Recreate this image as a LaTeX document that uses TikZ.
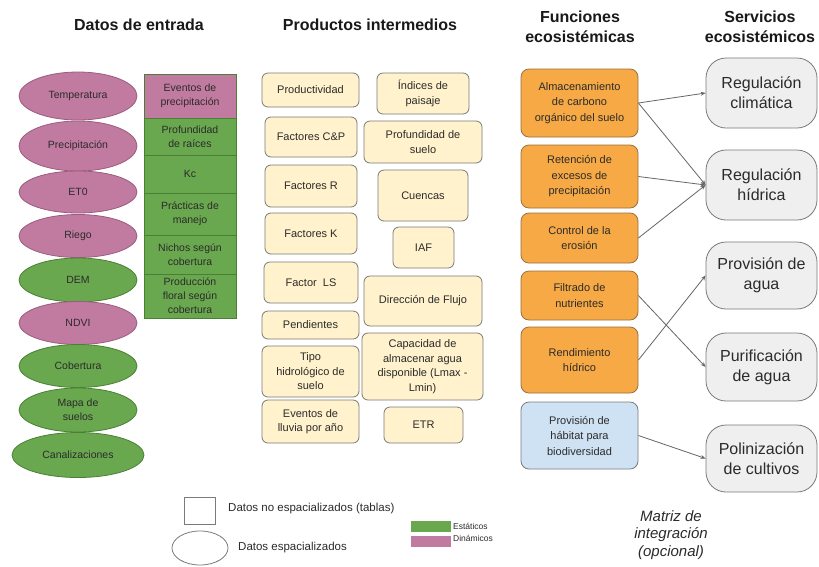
\documentclass[tikz,border=0pt]{standalone}
\usepackage{fontspec}
\setmainfont{Liberation Sans}
\usetikzlibrary{arrows.meta,shapes.geometric}
\definecolor{pinkf}{HTML}{C27BA0}
\definecolor{pinkd}{HTML}{9A5C7E}
\definecolor{greenf}{HTML}{6AA84F}
\definecolor{greend}{HTML}{4A8034}
\definecolor{creamf}{HTML}{FFF2CC}
\definecolor{orangef}{HTML}{F6A944}
\definecolor{oranged}{HTML}{9C7040}
\definecolor{bluef}{HTML}{CFE2F3}
\definecolor{grayf}{HTML}{EFEFEF}
\definecolor{edgegray}{HTML}{7A7A7A}
\definecolor{txt}{HTML}{2B2B2B}
\tikzset{
  title/.style={font=\fontsize{16}{20}\selectfont\bfseries, text=black!90, align=center},
  pell/.style={ellipse, draw=pinkd, fill=pinkf, line width=0.8pt, inner sep=0pt, align=center, text=txt, font=\fontsize{10.5}{14}\selectfont},
  gell/.style={ellipse, draw=greend, fill=greenf, line width=0.8pt, inner sep=0pt, align=center, text=txt, font=\fontsize{10.5}{14}\selectfont},
  cell/.style={rectangle, draw=greend, fill=#1, line width=0.8pt, inner sep=0pt, align=center, text=txt, font=\fontsize{10.5}{14}\selectfont, minimum width=92pt},
  cbox/.style={rectangle, rounded corners=6pt, draw=edgegray, fill=creamf, line width=0.8pt, inner sep=0pt, align=center, text=txt, font=\fontsize{11}{14.5}\selectfont},
  obox/.style={rectangle, rounded corners=8pt, draw=oranged, fill=#1, line width=0.8pt, inner sep=0pt, align=center, text=txt, font=\fontsize{11}{15.5}\selectfont, minimum width=117pt},
  sbox/.style={rectangle, rounded corners=20pt, draw=edgegray, fill=grayf, line width=0.8pt, inner sep=0pt, align=center, text=txt, font=\fontsize{16}{20}\selectfont, minimum width=111pt},
  conn/.style={draw=black!60, line width=0.8pt, -{Stealth[length=5pt,width=4pt]}},
  legtxt/.style={anchor=west, inner sep=0pt, text=txt, font=\fontsize{11.5}{14}\selectfont},
}
\begin{document}
\begin{tikzpicture}[x=1pt,y=-1pt]
\useasboundingbox (0,0) rectangle (819,566);
\fill[white] (0,0) rectangle (819,566);
% titles
\node[title] (t1) at (139,25) {Datos de entrada};
\node[title] (t2) at (370,25) {Productos intermedios};
\node[title] (t3) at (580,27) {Funciones\\ecosistémicas};
\node[title] (t4) at (760,27) {Servicios\\ecosistémicos};

% ellipses
\node[pell, minimum width=118pt, minimum height=48pt] (temp) at (78,96) {Temperatura};
\node[pell, minimum width=118pt, minimum height=50pt] (prec) at (78,146) {Precipitación};
\node[pell, minimum width=118pt, minimum height=42pt] (eto) at (78,192) {ET0};
\node[pell, minimum width=118pt, minimum height=43pt] (riego) at (78,236) {Riego};
\node[gell, minimum width=118pt, minimum height=44pt] (dem) at (78,280) {DEM};
\node[pell, minimum width=118pt, minimum height=43pt] (ndvi) at (78,323) {NDVI};
\node[gell, minimum width=118pt, minimum height=43pt] (cob) at (78,366) {Cobertura};
\node[gell, minimum width=118pt, minimum height=44pt] (mapa) at (78,410) {Mapa de\\suelos};
\node[gell, minimum width=132pt, minimum height=45pt] (canal) at (78,455) {Canalizaciones};

% table
\node[cell=pinkf, minimum height=44pt] (c1) at (190,96) {Eventos de\\precipitación};
\node[cell=greenf, minimum height=37pt] (c2) at (190,136.5) {Profundidad\\de raíces};
\node[cell=greenf, minimum height=38pt] (c3) at (190,174) {Kc};
\node[cell=greenf, minimum height=42pt] (c4) at (190,214) {Prácticas de\\manejo};
\node[cell=greenf, minimum height=39pt] (c5) at (190,254.5) {Nichos según\\cobertura};
\node[cell=greenf, minimum height=44pt] (c6) at (190,296) {Producción\\floral según\\cobertura};

% intermediate products
\node[cbox, minimum width=97pt, minimum height=34pt] (prod) at (310.5,90) {Productividad};
\node[cbox, minimum width=92pt, minimum height=41pt] (ind) at (423,93.5) {Índices de\\paisaje};
\node[cbox, minimum width=92pt, minimum height=40pt] (fcp) at (311,137) {Factores C\&P};
\node[cbox, minimum width=118pt, minimum height=42pt] (profs) at (423,142) {Profundidad de\\suelo};
\node[cbox, minimum width=92pt, minimum height=42pt] (fr) at (311,186) {Factores R};
\node[cbox, minimum width=90pt, minimum height=51pt] (cue) at (423,195.5) {Cuencas};
\node[cbox, minimum width=92pt, minimum height=41pt] (fk) at (311,233.5) {Factores K};
\node[cbox, minimum width=61pt, minimum height=41pt] (iaf) at (423.5,247.5) {IAF};
\node[cbox, minimum width=94pt, minimum height=41pt] (fls) at (311,282.5) {Factor\ \ LS};
\node[cbox, minimum width=118pt, minimum height=50pt] (dir) at (423,301) {Dirección de Flujo};
\node[cbox, minimum width=97pt, minimum height=28pt] (pend) at (310.5,325) {Pendientes};
\node[cbox, minimum width=121pt, minimum height=67pt] (cap) at (422.5,366.5) {Capacidad de\\almacenar agua\\disponible (Lmax -\\Lmin)};
\node[cbox, minimum width=97pt, minimum height=51pt] (tipo) at (310.5,371.5) {Tipo\\hidrológico de\\suelo};
\node[cbox, minimum width=97pt, minimum height=43pt] (evl) at (310.5,421.5) {Eventos de\\lluvia por año};
\node[cbox, minimum width=79pt, minimum height=36pt] (etr) at (423.5,425) {ETR};

% functions
\node[obox=orangef, minimum height=68pt] (alm) at (579.5,103) {Almacenamiento\\de carbono\\orgánico del suelo};
\node[obox=orangef, minimum height=63pt] (ret) at (579.5,176.5) {Retención de\\excesos de\\precipitación};
\node[obox=orangef, minimum height=50pt] (ctrl) at (579.5,238) {Control de la\\erosión};
\node[obox=orangef, minimum height=49pt] (filt) at (579.5,295.5) {Filtrado de\\nutrientes};
\node[obox=orangef, minimum height=66pt] (rend) at (579.5,360) {Rendimiento\\hídrico};
\node[obox=bluef, draw=edgegray, minimum height=67pt] (hab) at (579.5,435.5) {Provisión de\\hábitat para\\biodiversidad};

% services
\node[sbox, minimum height=70pt] (rc) at (761.5,93) {Regulación\\climática};
\node[sbox, minimum height=70pt] (rh) at (761.5,185) {Regulación\\hídrica};
\node[sbox, minimum height=67pt] (pa) at (761.5,275.5) {Provisión de\\agua};
\node[sbox, minimum height=68pt] (pu) at (761.5,367) {Purificación\\de agua};
\node[sbox, minimum height=67pt] (po) at (761.5,458.5) {Polinización\\de cultivos};

% connectors
\draw[conn] (alm.east) -- (rc.west);
\draw[conn] (alm.east) -- (rh.west);
\draw[conn] (ret.east) -- (rh.west);
\draw[conn] (ctrl.east) -- (rh.west);
\draw[conn] (filt.east) -- (pu.west);
\draw[conn] (rend.east) -- (pa.west);
\draw[conn] (hab.east) -- (po.west);

% legend
\node[rectangle, draw=edgegray, fill=white, line width=0.8pt, minimum width=31pt, minimum height=27pt, inner sep=0pt] (lsq) at (199.5,510.5) {};
\node[legtxt] (lsqt) at (228,509) {Datos no espacializados (tablas)};
\node[ellipse, draw=edgegray, fill=white, line width=0.8pt, minimum width=56pt, minimum height=34pt, inner sep=0pt] (lel) at (200,548) {};
\node[legtxt] (lelt) at (238,548) {Datos espacializados};
\node[rectangle, fill=greenf, minimum width=40pt, minimum height=11pt, inner sep=0pt] (lg) at (431,526.5) {};
\node[rectangle, fill=pinkf, minimum width=40pt, minimum height=11pt, inner sep=0pt] (lp) at (431,541.5) {};
\node[anchor=west, inner sep=0pt, text=txt, font=\fontsize{8.5}{10}\selectfont] (lgt) at (453,526) {Estáticos};
\node[anchor=west, inner sep=0pt, text=txt, font=\fontsize{8.5}{10}\selectfont] (lpt) at (453,538) {Dinámicos};

\node[align=center, text=txt, font=\fontsize{15}{17.5}\selectfont\itshape] (mat) at (671,535) {Matriz de\\integración\\(opcional)};
\end{tikzpicture}
\end{document}
